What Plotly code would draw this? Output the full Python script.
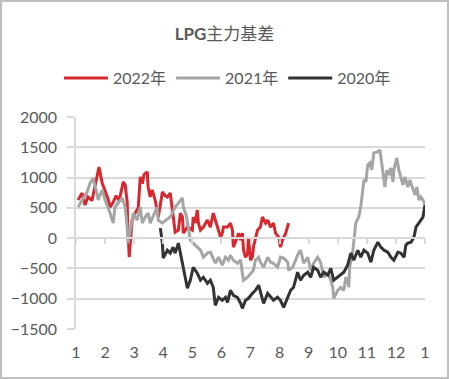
import plotly.graph_objects as go

# month position (1 = Jan 1, 13 = next Jan 1) and basis values
m2022 = [1.07,1.21,1.31,1.41,1.55,1.66,1.72,1.79,1.90,2.00,2.10,2.17,2.28,2.38,2.48,2.59,2.62,2.69,2.76,2.79,2.83,2.93,3.03,3.14,3.21,3.28,3.34,3.45,3.48,3.55,3.62,3.72,3.83,3.90,3.97,4.07,4.14,4.24,4.34,4.41,4.52,4.59,4.66,4.69,4.83,4.93,5.00,5.03,5.10,5.17,5.21,5.28,5.38,5.52,5.62,5.69,5.72,5.79,5.86,5.97,6.03,6.07,6.21,6.31,6.38,6.41,6.55,6.59,6.66,6.72,6.76,6.83,6.90,6.93,7.00,7.07,7.10,7.17,7.24,7.34,7.41,7.52,7.59,7.69,7.79,7.86,7.97,8.03,8.10,8.21,8.31]
v2022 = [630,745,546,680,620,900,1050,1175,910,795,650,513,596,700,620,845,927,880,600,83,-315,298,414,500,1010,900,1050,1093,845,680,795,630,348,550,762,700,680,745,298,99,132,414,348,83,182,150,132,348,250,464,248,132,182,298,182,348,414,300,182,17,83,182,182,248,132,-149,17,83,-33,83,-199,-315,-248,17,-364,-300,-149,17,132,182,348,248,298,182,248,83,17,-149,-33,83,248]

m2021 = [1.07,1.21,1.38,1.48,1.55,1.59,1.66,1.72,1.76,1.83,1.90,2.00,2.10,2.17,2.28,2.34,2.45,2.59,2.69,2.76,2.79,2.86,2.93,2.97,3.10,3.21,3.28,3.38,3.48,3.55,3.66,3.79,3.83,3.97,4.10,4.24,4.41,4.52,4.66,4.69,4.79,4.86,4.93,5.03,5.17,5.28,5.38,5.52,5.62,5.69,5.79,5.90,6.03,6.14,6.24,6.31,6.41,6.55,6.66,6.72,6.76,6.90,7.00,7.10,7.17,7.28,7.34,7.45,7.59,7.69,7.79,7.93,8.03,8.14,8.28,8.31,8.45,8.55,8.66,8.72,8.83,8.97,9.07,9.17,9.31,9.41,9.52,9.66,9.76,9.83,9.86,10.00,10.10,10.21,10.28,10.34,10.38,10.41,10.52,10.62,10.72,10.79,10.86,10.90,10.97,11.03,11.10,11.17,11.24,11.38,11.45,11.55,11.62,11.69,11.76,11.83,11.90,11.93,12.03,12.10,12.24,12.31,12.41,12.48,12.59,12.66,12.72,12.79,12.86,12.97,13.00]
v2021 = [513,630,762,900,960,993,845,745,630,700,795,630,513,414,248,513,580,662,513,182,-83,83,298,414,298,513,248,348,414,248,380,513,298,248,300,348,513,580,662,513,380,182,-33,-83,-149,-199,-315,-248,-232,-315,-414,-315,-447,-315,-364,-282,-364,-414,-360,-580,-695,-646,-580,-530,-364,-315,-397,-480,-315,-397,-414,-480,-315,-331,-397,-530,-480,-364,-232,-199,-414,-315,-530,-414,-315,-397,-646,-580,-695,-811,-993,-861,-811,-861,-646,-695,-811,-480,-199,248,348,513,795,960,930,1209,1242,1126,1408,1424,1457,1076,845,1126,1043,1159,927,1126,1325,1126,878,1010,845,960,795,712,845,630,680,596,546]

m2020 = [3.90,3.97,4.00,4.14,4.24,4.34,4.41,4.52,4.59,4.69,4.83,4.93,5.03,5.17,5.28,5.38,5.52,5.62,5.72,5.79,5.90,6.03,6.14,6.21,6.31,6.41,6.55,6.66,6.72,6.83,6.93,7.07,7.17,7.28,7.34,7.45,7.59,7.69,7.79,7.93,8.03,8.14,8.28,8.38,8.48,8.62,8.72,8.83,8.97,9.07,9.17,9.31,9.41,9.52,9.66,9.76,9.86,10.00,10.10,10.21,10.34,10.45,10.55,10.69,10.79,10.90,11.03,11.14,11.24,11.38,11.48,11.59,11.72,11.83,11.93,12.07,12.17,12.28,12.34,12.41,12.52,12.62,12.69,12.79,12.93,12.97,13.00]
v2020 = [166,-83,-331,-199,-248,-149,-248,-83,-248,-480,-828,-695,-480,-580,-695,-646,-745,-695,-811,-1109,-977,-1026,-977,-1060,-861,-944,-977,-1076,-1159,-1026,-993,-911,-861,-778,-894,-1076,-911,-977,-1026,-977,-1026,-1142,-977,-861,-811,-563,-695,-613,-563,-646,-480,-530,-646,-563,-613,-497,-695,-646,-613,-563,-447,-248,-364,-199,-315,-199,-248,-397,-199,-66,-149,-199,-232,-315,-364,-232,-248,-315,-116,-83,-66,17,182,248,348,464,546]

tick_vals = [1,2,3,4,5,6,7,8,9,10,11,12,13]
tick_text = ["1","2","3","4","5","6","7","8","9","10","11","12","1"]
y_ticks = [-1500,-1000,-500,0,500,1000,1500,2000]

GRID = "#D9D9D9"
TXT = "#595959"
FONT = "Lato, Liberation Sans, Noto Sans CJK SC, sans-serif"

fig = go.Figure()
fig.add_trace(go.Scatter(x=m2022, y=v2022, mode="lines", name="2022年",
                         line=dict(color="#D7282F", width=3)))
fig.add_trace(go.Scatter(x=m2021, y=v2021, mode="lines", name="2021年",
                         line=dict(color="#A5A5A5", width=3)))
fig.add_trace(go.Scatter(x=m2020, y=v2020, mode="lines", name="2020年",
                         line=dict(color="#333333", width=3)))
# invisible trace to carry the zero-line axis with tick marks
fig.add_trace(go.Scatter(x=[1, 13], y=[0, 0], xaxis="x2", mode="lines",
                         line=dict(width=0), showlegend=False, hoverinfo="skip"))

fig.update_layout(
    width=449, height=379,
    margin=dict(l=76, r=24, t=117, b=50),
    paper_bgcolor="white", plot_bgcolor="white",
    font=dict(family=FONT, size=16, color=TXT),
    title=dict(text="<b>LPG</b>主力基差", x=0.5, xref="container", xanchor="center",
               y=1 - 34/379, yref="container", yanchor="middle",
               font=dict(size=17, color=TXT, family="Lato, Noto Sans CJK SC, sans-serif")),
    legend=dict(orientation="h", x=0.434, xanchor="center", y=1.184, yanchor="middle",
                font=dict(size=16, color=TXT), itemwidth=44, tracegroupgap=0,
                bgcolor="rgba(0,0,0,0)"),
    xaxis=dict(range=[1, 13], tickvals=tick_vals, ticktext=tick_text,
               showgrid=False, zeroline=False, showline=False, ticks="",
               ticklabelstandoff=12, tickfont=dict(size=16, color=TXT)),
    xaxis2=dict(range=[1, 13], overlaying="x", anchor="free", position=(0 + 1500) / 3500,
                tickvals=tick_vals, showticklabels=False, showgrid=False, zeroline=False,
                showline=True, linecolor=GRID, linewidth=1.5,
                ticks="outside", ticklen=5, tickcolor=GRID, tickwidth=1.5),
    yaxis=dict(range=[-1500, 2000], tickvals=y_ticks, showgrid=True, gridcolor=GRID,
               gridwidth=1.5, zeroline=False, showline=True, linecolor=GRID, linewidth=1.5,
               ticks="outside", ticklen=7, tickcolor=GRID, tickwidth=1.5,
               ticklabelstandoff=7, tickfont=dict(size=16, color=TXT)),
    shapes=[dict(type="rect", xref="paper", yref="paper",
                 x0=(1 - 76) / 349, x1=(448 - 76) / 349,
                 y0=(329 - 378) / 212, y1=(329 - 1) / 212,
                 line=dict(color="#BFBFBF", width=2), fillcolor="rgba(0,0,0,0)", layer="below")],
)

fig.write_html("out.html", config={"displayModeBar": False},
               post_script="document.body.style.margin='0';document.body.style.overflow='hidden';")
